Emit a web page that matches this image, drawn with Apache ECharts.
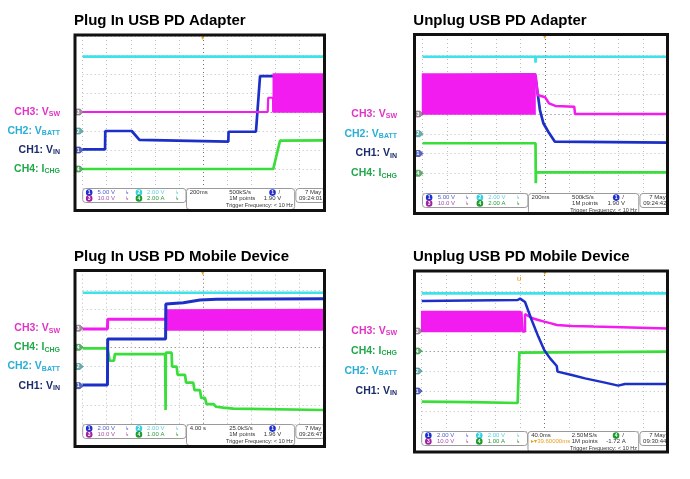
<!DOCTYPE html>
<html><head><meta charset="utf-8">
<script src="https://cdn.jsdelivr.net/npm/echarts/dist/echarts.min.js"></script>
<style>html,body{margin:0;padding:0;background:#fff}#c{width:690px;height:479px}</style>
</head><body><div id="c"></div>
<script>
// ---------------- DATA (in scope divisions: x 0..10, y 0..8) ----------------
const titles = ['Plug In USB PD Adapter', 'Unplug USB PD Adapter', 'Plug In USB PD Mobile Device', 'Unplug USB PD Mobile Device'];

// Panel 1 : Plug In USB PD Adapter
const p1Cyan = [[0, 6.91], [10, 6.91]];
const p1Blue = [[0, 2.03], [0.93, 2.03], [0.94, 3.0], [2.04, 3.0], [2.36, 2.53], [6.06, 2.44], [6.07, 2.96], [7.21, 2.96], [7.38, 5.89], [10, 5.89]];
const p1MagLine = [[0, 4.0], [7.70, 4.0], [7.72, 4.75], [7.92, 4.75], [7.93, 4.0]];
const p1MagBandX = [7.93, 10];
const p1MagBandLow = [4.0, 4.0];
const p1MagBandHigh = [6.0, 6.0];
const p1Green = [[0, 1.0], [7.93, 1.0], [8.21, 2.49], [10, 2.51]];

// Panel 2 : Unplug USB PD Adapter
const p2Cyan = [[0, 6.9], [4.6, 6.9], [4.61, 6.6], [4.62, 6.9], [10, 6.9]];
const p2MagBandX = [0, 4.59];
const p2MagBandLow = [4.0, 4.0];
const p2MagBandHigh = [6.03, 6.03];
const p2MagLine = [[4.59, 6.03], [4.62, 5.9], [4.7, 4.96], [5.0, 4.85], [5.16, 4.54], [5.42, 4.41], [6.19, 4.37], [6.22, 4.0], [10, 4.0]];
const p2Blue = [[0, 5.95], [4.59, 6.0], [4.79, 4.2], [4.93, 3.53], [5.13, 3.1], [5.4, 2.6], [10, 2.55]];
const p2Green = [[0, 2.52], [4.61, 2.52], [4.62, 0.5], [4.63, 1.05], [10, 1.04]];

// Panel 3 : Plug In USB PD Mobile Device
const p3Cyan = [[0, 6.85], [10, 6.85]];
const p3MagLine = [[0, 4.96], [1.03, 4.96], [1.04, 5.46], [3.45, 5.46]];
const p3MagBandX = [3.45, 10];
const p3MagBandLow = [4.91, 4.91];
const p3MagBandHigh = [5.95, 5.97];
const p3Blue = [[0, 2.04], [1.03, 2.04], [1.04, 4.44], [3.45, 4.44], [3.46, 6.26], [4.19, 6.33], [4.88, 6.47], [5.57, 6.51], [10, 6.54]];
const p3Green = [[0, 3.95], [1.03, 3.95], [1.07, 3.69], [1.12, 3.3], [1.3, 3.3], [1.34, 3.65], [3.43, 3.65], [3.45, 0.73], [3.46, 3.72], [3.7, 3.72], [3.72, 2.99], [3.91, 2.99], [3.95, 2.56], [4.26, 2.56], [4.3, 2.16], [4.6, 2.16], [4.65, 1.77], [4.88, 1.77], [4.93, 1.36], [5.09, 1.36], [5.15, 1.04], [5.44, 1.04], [5.55, 0.9], [5.85, 0.85], [6.27, 0.8], [10, 0.73]];

// Panel 4 : Unplug USB PD Mobile Device
const p4Cyan = [[0, 6.88], [10, 6.88]];
const p4MagBandX = [0, 4.0];
const p4MagBandLow = [4.97, 4.97];
const p4MagBandHigh = [5.97, 5.97];
const p4MagLine = [[4.05, 4.97], [4.05, 5.97], [4.1, 5.97], [4.1, 4.97], [4.2, 4.97], [4.2, 5.85], [4.27, 5.75], [4.47, 5.65], [4.74, 5.55], [4.98, 5.47], [5.3, 5.37], [5.49, 5.3], [6.1, 5.25], [7.0, 5.22], [10, 5.13]];
const p4Blue = [[0, 6.5], [3.9, 6.55], [4.0, 6.62], [4.2, 6.45], [4.47, 5.55], [4.74, 4.72], [4.98, 4.05], [5.22, 3.63], [5.49, 3.25], [5.52, 2.97], [6.1, 2.8], [6.64, 2.63], [7.45, 2.42], [7.99, 2.27], [8.26, 2.35], [10, 2.35]];
const p4Green = [[0, 1.47], [2, 1.44], [3.9, 1.4], [3.96, 1.45], [3.97, 3.92], [4.05, 3.97], [10, 3.97]];

// channel ground levels per panel (divisions)
const groundCH1 = [2, 2, 2, 2];
const groundCH2 = [3, 3, 3, 3];
const groundCH3 = [4, 4, 5, 5];
const groundCH4 = [1, 1, 4, 4];

// info panel texts
const infoScale = [['5.00 V', '2.00 V', '10.0 V', '2.00 A'], ['5.00 V', '2.00 V', '10.0 V', '2.00 A'], ['2.00 V', '2.00 V', '10.0 V', '1.00 A'], ['2.00 V', '2.00 V', '10.0 V', '1.00 A']];
const infoTime = ['200ms', '200ms', '4.00 s', '40.0ms'];
const infoRate = ['500kS/s', '500kS/s', '25.0kS/s', '2.50MS/s'];
const infoPoints = ['1M points', '1M points', '1M points', '1M points'];
const infoTrigCh = [1, 1, 1, 4];
const infoTrigLvl = ['1.90 V', '1.90 V', '1.96 V', '-1.72 A'];
const infoTrigFreq = ['Trigger Frequency: < 10 Hz', 'Trigger Frequency: < 10 Hz', 'Trigger Frequency: < 10 Hz', 'Trigger Frequency: < 10 Hz'];
const infoDelay = ['', '', '', '\u25B8\u25BE39.60000ms'];
const infoDate = ['7 May 2', '7 May 2', '7 May 2', '7 May 2'];
const infoClock = ['09:24:01', '09:24:42', '09:26:47', '09:30:44'];

// ---------------- LAYOUT / STYLE ----------------
const G = [
  { left: 82.7, top: 36, width: 240.3, height: 152 },
  { left: 422.5, top: 35, width: 245.2, height: 158 },
  { left: 82.7, top: 270.7, width: 240.3, height: 153.3 },
  { left: 421.7, top: 271, width: 246, height: 160 }
];
const FR = [
  { x: 75, y: 35, w: 249.5, h: 175.5 },
  { x: 414.5, y: 34.5, w: 253, h: 179 },
  { x: 75, y: 270.5, w: 249.5, h: 176 },
  { x: 414.5, y: 271, w: 253, h: 181 }
];
const titlePos = [[74, 21], [413.3, 21], [74, 257], [413, 257]];
const labelRight = [60, 397, 60, 397];

const C = { cyan: '#3ee2ea', blue: '#1c30c8', mag: '#f21cf0', green: '#3ade3a' };
const LBL = { ch1: '#1b2b6b', ch2: '#2aaed6', ch3: '#e232c6', ch4: '#22a84c' };
const CIRC = { 1: '#1f2fd0', 2: '#35cfe0', 3: '#a0209e', 4: '#1c9a2c' };
const SCALE_COL = ['#4a5fd0', '#5ccfe0', '#a850a8', '#2a9a3a'];

const gridCol = '#bdbdbd', centerCol = '#707070';
const xCols = [], yCols = [];
for (let i = 0; i <= 10; i++) xCols.push(i === 5 ? centerCol : gridCol);
for (let i = 0; i <= 8; i++) yCols.push(i === 4 ? centerCol : gridCol);

function ls(idx, data, color, z, w) {
  return { type: 'line', xAxisIndex: idx, yAxisIndex: idx, data: data, symbol: 'none', showSymbol: false,
    lineStyle: { color: color, width: w || 2.7 }, z: z, silent: true, animation: false };
}
// switching envelope drawn as filled polygons between low and high traces
function band(idx, xs, lows, highs, color, z) {
  const data = [];
  for (let i = 0; i < xs.length - 1; i++) data.push([xs[i], lows[i], highs[i], xs[i + 1], lows[i + 1], highs[i + 1]]);
  return { type: 'custom', xAxisIndex: idx, yAxisIndex: idx, z: z, silent: true, animation: false,
    encode: { x: [0, 3], y: [1, 2, 4, 5] }, data: data,
    renderItem: function (params, api) {
      const a = api.coord([api.value(0), api.value(1)]);
      const b = api.coord([api.value(3), api.value(4)]);
      const c = api.coord([api.value(3), api.value(5)]);
      const d = api.coord([api.value(0), api.value(2)]);
      return { type: 'polygon', shape: { points: [a, b, c, d] }, style: { fill: color, stroke: color, lineWidth: 1.5 } };
    } };
}

const series = [].concat(
  ls(0, p1Cyan, C.cyan, 3), ls(0, p1Blue, C.blue, 3), ls(0, p1Green, C.green, 3), ls(0, p1MagLine, C.mag, 4, 2.2),
  band(0, p1MagBandX, p1MagBandLow, p1MagBandHigh, C.mag, 5),
  ls(1, p2Cyan, C.cyan, 3), ls(1, p2Green, C.green, 3), ls(1, p2Blue, C.blue, 3),
  band(1, p2MagBandX, p2MagBandLow, p2MagBandHigh, C.mag, 5), ls(1, p2MagLine, C.mag, 4, 2.5),
  ls(2, p3Cyan, C.cyan, 3), ls(2, p3Green, C.green, 3), ls(2, p3MagLine, C.mag, 4, 3),
  band(2, p3MagBandX, p3MagBandLow, p3MagBandHigh, C.mag, 4), ls(2, p3Blue, C.blue, 5, 3),
  ls(3, p4Cyan, C.cyan, 3), ls(3, p4Green, C.green, 3),
  band(3, p4MagBandX, p4MagBandLow, p4MagBandHigh, C.mag, 4), ls(3, p4MagLine, C.mag, 4, 2.5), ls(3, p4Blue, C.blue, 5, 2.5)
);

const grids = G.map(g => ({ left: g.left, top: g.top, width: g.width, height: g.height, show: false }));
const xAxes = G.map((g, i) => ({ type: 'value', gridIndex: i, min: 0, max: 10, interval: 1,
  axisLine: { show: false }, axisTick: { show: false }, axisLabel: { show: false },
  splitLine: { show: true, showMinLine: true, showMaxLine: true, lineStyle: { color: xCols, type: [1, 3], width: 1 } } }));
const yAxes = G.map((g, i) => ({ type: 'value', gridIndex: i, min: 0, max: 8, interval: 1,
  axisLine: { show: false }, axisTick: { show: false }, axisLabel: { show: false },
  splitLine: { show: true, showMinLine: true, showMaxLine: true, lineStyle: { color: yCols, type: [1, 3], width: 1 } } }));

function txt(x, y, text, fill, size, align, weight, z) {
  return { type: 'text', x: x, y: y, z: z || 20, silent: true,
    style: { text: text, fill: fill, font: (weight || 'normal') + ' ' + size + 'px "Liberation Sans", Arial, sans-serif',
      textAlign: align || 'left', align: align || 'left', textVerticalAlign: 'middle', verticalAlign: 'middle' } };
}
function circ(cx, cy, ch, z) {
  return [
    { type: 'circle', z: z || 20, silent: true, shape: { cx: cx, cy: cy, r: 3.3 }, style: { fill: CIRC[ch] } },
    txt(cx, cy + 0.3, String(ch), '#fff', 5, 'center', 'bold', (z || 20) + 1)
  ];
}

function buildGraphics(chart) {
  const els = [];
  G.forEach((g, i) => {
    const gb = g.top + g.height, W = g.width, L = g.left;
    const fx = f => L + f * W;
    els.push(txt(titlePos[i][0], titlePos[i][1], titles[i], '#000', 15, 'left', 'bold'));
    els.push({ type: 'rect', z: 15, silent: true, shape: { x: fx(0), y: gb + 0.5, width: 0.43 * W, height: 14, r: 3 }, style: { fill: '#fff', stroke: '#9a9a9a', lineWidth: 1 } });
    els.push({ type: 'rect', z: 15, silent: true, shape: { x: fx(0.432), y: gb + 0.5, width: 0.45 * W, height: 21, r: 3 }, style: { fill: '#fff', stroke: '#9a9a9a', lineWidth: 1 } });
    els.push({ type: 'rect', z: 15, silent: true, shape: { x: fx(0.887), y: gb + 0.5, width: 0.12 * W, height: 14, r: 3 }, style: { fill: '#fff', stroke: '#9a9a9a', lineWidth: 1 } });
    const r1 = gb + 4.6, r2 = gb + 10.4, r3 = gb + 17.8;
    const sc = infoScale[i];
    els.push(...circ(fx(0.027), r1, 1)); els.push(txt(fx(0.062), r1, sc[0], SCALE_COL[0], 6));
    els.push(txt(fx(0.175), r1, '\u21B3', '#4a5fd0', 5));
    els.push(...circ(fx(0.234), r1, 2)); els.push(txt(fx(0.268), r1, sc[1], SCALE_COL[1], 6));
    els.push(txt(fx(0.383), r1, '\u21B3', '#5ccfe0', 5));
    els.push(...circ(fx(0.027), r2, 3)); els.push(txt(fx(0.062), r2, sc[2], SCALE_COL[2], 6));
    els.push(txt(fx(0.175), r2, '\u21B3', '#a850a8', 5));
    els.push(...circ(fx(0.234), r2, 4)); els.push(txt(fx(0.268), r2, sc[3], SCALE_COL[3], 6));
    els.push(txt(fx(0.383), r2, '\u21B3', '#2a9a3a', 5));
    els.push(txt(fx(0.445), r1, infoTime[i], '#333', 6));
    els.push(txt(fx(0.61), r1, infoRate[i], '#333', 6));
    els.push(txt(fx(0.61), r2, infoPoints[i], '#333', 6));
    if (infoDelay[i]) els.push(txt(fx(0.445), r2, infoDelay[i], '#e8a020', 6));
    els.push(...circ(fx(0.79), r1, infoTrigCh[i])); els.push(txt(fx(0.815), r1, '/', '#333', 6));
    els.push(txt(fx(0.79), r2, infoTrigLvl[i], '#333', 6, 'center'));
    els.push(txt(fx(0.875), r3, infoTrigFreq[i], '#333', 5.5, 'right'));
    els.push(txt(fx(0.925), r1, infoDate[i], '#333', 6, 'left'));
    els.push(txt(fx(0.9), r2, infoClock[i], '#333', 6, 'left'));
    els.push(txt(fx(0.5), g.top + 2, '\u25BE', '#e8a020', 7, 'center'));
    if (i === 3) els.push(txt(fx(0.396), g.top + 8, 'U', '#e8a020', 6, 'center', 'bold'));
    const f = FR[i];
    els.push({ type: 'rect', z: 99, silent: true, shape: { x: f.x + f.w, y: f.y - 2, width: 20, height: f.h + 4 }, style: { fill: '#fff' } });
    els.push({ type: 'rect', z: 100, silent: true, shape: { x: f.x, y: f.y, width: f.w, height: f.h }, style: { fill: 'none', stroke: '#111', lineWidth: 3 } });
    const chans = [
      { n: 3, g: groundCH3[i], label: '{a|CH3: V}{b|SW}', col: LBL.ch3, mk: '#7d6a7d' },
      { n: 2, g: groundCH2[i], label: '{a|CH2: V}{b|BATT}', col: LBL.ch2, mk: '#3a9090' },
      { n: 1, g: groundCH1[i], label: '{a|CH1: V}{b|IN}', col: LBL.ch1, mk: '#2233a8' },
      { n: 4, g: groundCH4[i], label: '{a|CH4: I}{b|CHG}', col: LBL.ch4, mk: '#2f9040' }
    ];
    chans.forEach(ch => {
      const p = chart.convertToPixel({ gridIndex: i }, [0, ch.g]);
      const x = p[0] - 1, y = p[1];
      els.push({ type: 'polygon', z: 20, silent: true, shape: { points: [[x - 7, y - 3], [x - 1.5, y - 3], [x + 1.5, y], [x - 1.5, y + 3], [x - 7, y + 3]] },
        style: { fill: ch.mk, opacity: 0.75, stroke: ch.mk, lineWidth: 0.8 } });
      els.push(txt(x - 3.5, y + 0.3, String(ch.n), '#fff', 5, 'center', 'bold', 21));
      els.push({ type: 'text', x: labelRight[i], y: y, z: 20, silent: true,
        style: { text: ch.label, textAlign: 'right', align: 'right', textVerticalAlign: 'middle', verticalAlign: 'middle',
          rich: {
            a: { fill: ch.col, color: ch.col, fontSize: 10.5, fontWeight: 'bold', fontFamily: '"Liberation Sans", Arial, sans-serif', lineHeight: 12 },
            b: { fill: ch.col, color: ch.col, fontSize: 7, fontWeight: 'bold', fontFamily: '"Liberation Sans", Arial, sans-serif', lineHeight: 8, verticalAlign: 'bottom' }
          } } });
    });
  });
  return els;
}

const chart = echarts.init(document.getElementById('c'), null, { renderer: 'canvas' });
chart.setOption({ backgroundColor: '#fff', animation: false, grid: grids, xAxis: xAxes, yAxis: yAxes, series: series });
chart.setOption({ graphic: { elements: buildGraphics(chart) } });
</script></body></html>
